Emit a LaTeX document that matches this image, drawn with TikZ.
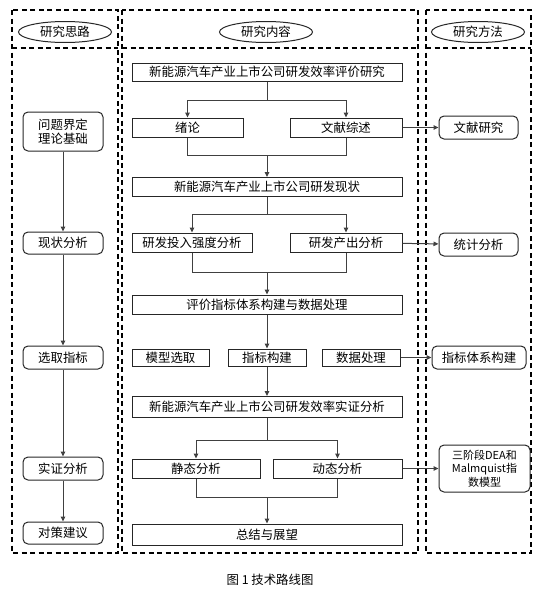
\documentclass[tikz,border=0pt]{standalone}
\usepackage{fontspec}
\newfontfamily\cjk{Noto Sans CJK SC}
\usetikzlibrary{arrows.meta, shapes.geometric}
\tikzset{
    panel/.style={draw=black, line width=1.6pt, dash pattern=on 5pt off 3.5pt}, % 三栏虚线框
    title/.style={ellipse, draw=black!85, line width=1pt, minimum width=93, minimum height=21, inner sep=0pt},
    cbox/.style={draw=black!85, line width=1pt, inner sep=0pt, align=center}, % 中栏方框
    sbox/.style={cbox, rounded corners=5pt}, % 两侧圆角框
    bw/.style 2 args={minimum width=#1, minimum height=#2},
    link/.style={draw=black!75, line width=1pt},
    arr/.style={link, -{Triangle[length=5pt, width=4.5pt]}}
}
\begin{document}
\begin{tikzpicture}[x=1pt, y=-1pt, font=\cjk\fontsize{12.4}{14.5}\selectfont]
    \useasboundingbox (0,0) rectangle (537,600);

    \foreach \xa/\xb in {12/118, 122/418, 426/531} {
        \draw[panel] (\xa,10) rectangle (\xb,553);
        \draw[panel] (\xa,48) -- (\xb,48);
    }
    \node[title] (h1) at (65,32) {研究思路};
    \node[title] (h2) at (266,32) {研究内容};
    \node[title] (h3) at (478,32) {研究方法};

    % 左栏：研究思路
    \foreach \i/\y/\h/\t in {1/131.5/39/{问题界定\\理论基础}, 2/243/22/现状分析, 3/357.5/23/选取指标, 4/468.5/23/实证分析, 5/533/22/对策建议}
        \node[sbox, bw={80}{\h}] (s\i) at (63,\y) {\t};
    \foreach \a/\b in {1/2, 2/3, 3/4, 4/5} \draw[arr] (s\a) -- (s\b);

    % 中栏：研究内容
    \node[cbox, bw={270}{18}] (c1) at (267,72) {新能源汽车产业上市公司研发效率评价研究};
    \node[cbox, bw={111}{19}] (xl) at (187.5,127.5) {绪论};
    \node[cbox, bw={112}{19}] (wx) at (346,127.5) {文献综述};
    \node[cbox, bw={270}{19}] (c2) at (267,187) {新能源汽车产业上市公司研发现状};
    \node[cbox, bw={120}{19}] (tr) at (192,242.5) {研发投入强度分析};
    \node[cbox, bw={112}{19}] (cc) at (346,242.5) {研发产出分析};
    \node[cbox, bw={270}{19}] (c3) at (267,304.5) {评价指标体系构建与数据处理};
    \node[cbox, bw={77}{17}] (mx) at (170.5,357.5) {模型选取};
    \node[cbox, bw={78}{17}] (zb) at (267,357.5) {指标构建};
    \node[cbox, bw={78}{17}] (sj) at (361,357.5) {数据处理};
    \node[cbox, bw={270}{21}] (c4) at (267,407) {新能源汽车产业上市公司研发效率实证分析};
    \node[cbox, bw={128}{19}] (jt) at (196,468.5) {静态分析};
    \node[cbox, bw={129}{19}] (dt) at (337.5,468.5) {动态分析};
    \node[cbox, bw={270}{21}] (c5) at (267,534.5) {总结与展望};

    \coordinate (p1) at (267,100);  \coordinate (q1) at (267,155);
    \coordinate (p2) at (267,214);  \coordinate (q2) at (267,272);
    \coordinate (p3) at (267,440);  \coordinate (q3) at (267,497);

    \draw[link] (c1) -- (p1);
    \draw[arr] (p1) -| (xl);
    \draw[arr] (p1) -| (wx);
    \draw[link] (xl) |- (q1);
    \draw[link] (wx) |- (q1);
    \draw[arr] (q1) -- (c2);

    \draw[link] (c2) -- (p2);
    \draw[arr] (p2) -| (tr);
    \draw[arr] (p2) -| (cc);
    \draw[link] (tr) |- (q2);
    \draw[link] (cc) |- (q2);
    \draw[arr] (q2) -- (c3);

    \draw[arr] (c3) -- (zb);
    \draw[arr] (zb) -- (c4);

    \draw[link] (c4) -- (p3);
    \draw[arr] (p3) -| (jt);
    \draw[arr] (p3) -| (dt);
    \draw[link] (jt) |- (q3);
    \draw[link] (dt) |- (q3);
    \draw[arr] (q3) -- (c5);

    % 右栏：研究方法
    \node[sbox, bw={79}{23}] (r1) at (478.5,127.5) {文献研究};
    \node[sbox, bw={79}{23}] (r2) at (478.5,244.5) {统计分析};
    \node[sbox, bw={94}{23}] (r3) at (479,357.5) {指标体系构建};
    \node[sbox, bw={91}{47}, font=\cjk\fontsize{11}{13.5}\selectfont] (r4) at (484.5,468.5) {三阶段DEA和\\Malmquist指\\数模型};

    \draw[arr] (wx) -- (r1);
    \draw[arr] (cc) -- (r2);
    \draw[arr] (sj) -- (r3);
    \draw[arr] (dt) -- (r4);

    \node (cap) at (270,580) {图 1 技术路线图};
\end{tikzpicture}
\end{document}
